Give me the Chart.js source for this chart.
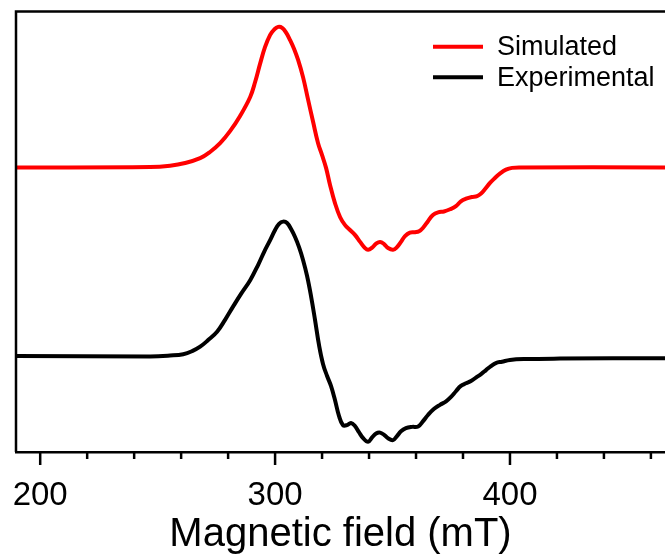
<!DOCTYPE html>
<html>
<head>
<meta charset="utf-8">
<script src="https://cdn.jsdelivr.net/npm/chart.js@4.4.1/dist/chart.umd.min.js"></script>
<style>
  html, body { margin: 0; padding: 0; background: #fff; }
  #wrap { width: 665px; height: 556px; }
</style>
</head>
<body>
<div id="wrap"><canvas id="epr" width="665" height="556"></canvas></div>
<script>
// Magnetic field (mT) and intensity (arb. units, traces offset vertically)
const simField = [189.8, 246.8, 255.3, 261.7, 268.1, 272.3, 276.6, 280.9, 285.1, 289.4, 291.5, 293.6, 295.7, 297.9, 299.6, 301.3, 303.0, 304.7, 306.4, 308.1, 309.8, 311.9, 314.0, 316.2, 318.3, 320.0, 321.7, 323.4, 325.5, 327.7, 329.8, 331.9, 334.0, 336.2, 338.3, 339.6, 341.3, 343.0, 344.7, 346.4, 348.1, 350.2, 351.9, 353.6, 355.3, 357.4, 359.6, 361.3, 363.0, 365.1, 367.2, 369.4, 371.9, 374.5, 377.0, 379.1, 381.3, 383.8, 386.0, 387.7, 389.4, 391.5, 393.6, 395.7, 398.3, 400.9, 404.3, 466];
const simIntensity = [64.6, 64.7, 65.0, 65.6, 66.7, 68.1, 70.1, 72.9, 76.3, 80.6, 84.0, 88.1, 91.9, 94.7, 95.9, 96.5, 96.3, 95.2, 93.5, 91.5, 89.0, 85.1, 80.1, 74.9, 70.1, 67.4, 64.5, 60.6, 56.5, 53.3, 51.5, 50.4, 49.3, 47.7, 46.3, 45.9, 46.4, 47.3, 47.7, 47.2, 46.3, 45.9, 46.5, 47.7, 49.0, 49.8, 49.9, 50.1, 50.9, 52.4, 53.8, 54.4, 54.6, 55.1, 55.8, 56.9, 57.5, 57.9, 58.1, 58.7, 59.7, 61.1, 62.2, 63.2, 64.1, 64.5, 64.6, 64.6];

const expField = [189.8, 246.8, 255.3, 260.9, 264.7, 268.1, 271.5, 275.3, 278.7, 282.1, 285.5, 289.4, 292.8, 295.3, 297.9, 300.0, 301.7, 303.4, 305.1, 306.8, 308.5, 310.2, 311.9, 313.6, 315.3, 317.0, 318.7, 320.4, 322.1, 323.8, 325.5, 327.2, 328.9, 330.6, 332.3, 334.0, 335.7, 337.4, 339.6, 341.3, 343.0, 344.7, 346.4, 348.1, 350.2, 351.9, 353.6, 355.7, 358.3, 360.9, 363.0, 365.1, 367.7, 370.2, 372.8, 374.9, 377.0, 379.1, 381.3, 383.4, 385.5, 387.7, 389.8, 391.9, 394.0, 396.6, 400.0, 406.4, 421.3, 466.0];
const expIntensity = [21.8, 21.7, 21.9, 22.2, 22.9, 23.9, 25.4, 27.3, 30.0, 33.0, 35.9, 39.0, 42.5, 45.4, 48.1, 50.4, 51.8, 52.3, 52.0, 50.6, 48.8, 46.5, 43.6, 40.0, 35.4, 30.0, 24.3, 20.0, 17.3, 15.0, 11.8, 8.2, 6.1, 6.1, 6.6, 5.9, 4.5, 3.2, 2.3, 3.3, 4.2, 4.4, 3.9, 3.1, 2.7, 3.6, 4.7, 5.4, 5.7, 5.8, 7.0, 8.4, 9.8, 10.7, 11.5, 12.5, 13.8, 15.0, 15.6, 16.1, 16.9, 17.7, 18.6, 19.5, 20.2, 20.5, 20.9, 21.1, 21.2, 21.3];

const majorTicks = [200, 300, 400];
const minorStep = 20;
const fieldMin = 189.7;
const fieldMax = 466;

const FONT = "'Liberation Sans', Arial, sans-serif";

function toPoints(xs, ys) {
    return xs.map((x, i) => ({ x: x, y: ys[i] }));
}

// left + top frame lines, tick marks with two lengths
const framePlugin = {
    id: 'frame',
    afterDraw(chart) {
        const c = chart.ctx;
        const a = chart.chartArea;
        const xs = chart.scales.x;
        c.save();
        c.strokeStyle = '#000';
        c.lineWidth = 2.5;
        c.beginPath();
        c.moveTo(a.left, a.bottom);
        c.lineTo(a.left, a.top);
        c.lineTo(chart.width, a.top);
        c.stroke();

        for (let v = 200; v <= fieldMax; v += minorStep) {
            const px = xs.getPixelForValue(v);
            const len = majorTicks.includes(v) ? 13 : 7;
            c.beginPath();
            c.moveTo(px, a.bottom);
            c.lineTo(px, a.bottom + len);
            c.stroke();
        }
        c.restore();
    }
};

// legend in the top right corner
const legendPlugin = {
    id: 'cornerLegend',
    afterDraw(chart) {
        const c = chart.ctx;
        c.save();
        c.font = '27px ' + FONT;
        c.textBaseline = 'middle';
        chart.data.datasets.forEach((ds, i) => {
            const y = 46.7 + i * 30.6;
            c.strokeStyle = ds.borderColor;
            c.lineWidth = 4;
            c.beginPath();
            c.moveTo(433, y);
            c.lineTo(483, y);
            c.stroke();
            c.fillStyle = '#000';
            c.fillText(ds.label, 497, y + 1);
        });
        c.restore();
    }
};

new Chart(document.getElementById('epr'), {
    type: 'line',
    data: {
        datasets: [{
            label: 'Simulated',
            data: toPoints(simField, simIntensity),
            borderColor: '#ff0000',
            borderWidth: 4,
            pointRadius: 0,
            tension: 0.4,
            fill: false
        }, {
            label: 'Experimental',
            data: toPoints(expField, expIntensity),
            borderColor: '#000000',
            borderWidth: 4,
            pointRadius: 0,
            tension: 0.4,
            fill: false
        }]
    },
    options: {
        responsive: false,
        animation: false,
        events: [],
        layout: { padding: { left: 16, top: 11.5, right: 0, bottom: 0 } },
        plugins: {
            legend: { display: false },
            tooltip: { enabled: false }
        },
        scales: {
            x: {
                type: 'linear',
                min: fieldMin,
                max: fieldMax,
                afterFit(scale) {
                    scale.height = 104;
                    scale.paddingLeft = 0;
                    scale.paddingRight = 0;
                },
                afterBuildTicks(scale) {
                    scale.ticks = majorTicks.map(v => ({ value: v }));
                },
                grid: { display: false },
                border: { display: true, color: '#000', width: 2.5 },
                ticks: {
                    autoSkip: false,
                    maxRotation: 0,
                    padding: 16,
                    color: '#000',
                    font: { family: FONT, size: 33 },
                    callback: v => String(v)
                },
                title: {
                    display: true,
                    text: 'Magnetic field (mT)',
                    color: '#000',
                    font: { family: FONT, size: 40, lineHeight: 1 },
                    padding: { top: 0, bottom: 1 }
                }
            },
            y: {
                display: false,
                min: 0,
                max: 100
            }
        }
    },
    plugins: [framePlugin, legendPlugin]
});
</script>
</body>
</html>
